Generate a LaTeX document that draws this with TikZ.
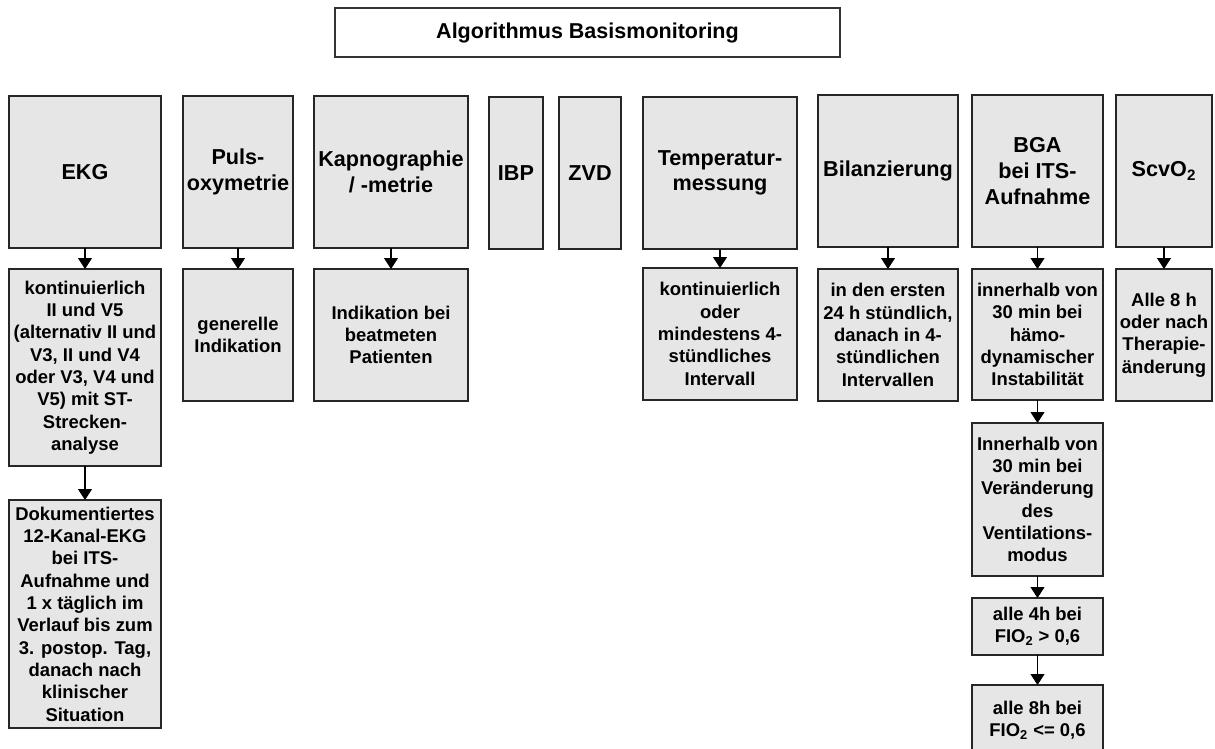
\documentclass[tikz,border=0pt]{standalone}
\usepackage{fontspec}
\setmainfont{Liberation Sans}
\usepackage{tikz}
\usetikzlibrary{arrows.meta, positioning}
\definecolor{boxgray}{HTML}{E6E6E6}
\tikzstyle{title} = [rectangle, draw=black!80, line width=0.6pt, fill=white, outer sep=0pt, font=\fontsize{12.25pt}{14pt}\selectfont\bfseries]
\tikzstyle{head} = [rectangle, draw=black!85, line width=0.6pt, fill=boxgray, minimum height=3.04cm, inner sep=1pt, outer sep=0pt, align=center, font=\fontsize{12.3pt}{14.6pt}\selectfont\bfseries]
\tikzstyle{info} = [rectangle, draw=black!85, line width=0.6pt, fill=boxgray, inner sep=1pt, outer sep=0pt, align=center, font=\fontsize{10.5pt}{12.7pt}\selectfont\bfseries]
\tikzstyle{arrow} = [line width=0.6pt,-{Triangle[length=0.22cm,width=0.28cm]}]

\begin{document}
\begin{tikzpicture}[node distance = 0.42cm]
	\useasboundingbox (0,0) rectangle (24.3,-14.98);
	\node (Titel) [title, minimum width=10.1cm, minimum height=0.98cm] at (11.75,-0.65) {Algorithmus Basismonitoring};
	% obere Reihe
	\node (EKG) [head, minimum width=3.04cm] at (1.70,-3.44) {EKG};
	\node (Puls) [head, minimum width=2.20cm] at (4.76,-3.44) {Puls-\\oxymetrie};
	\node (Kapno) [head, minimum width=3.08cm] at (7.82,-3.44) {Kapnographie\\/ -metrie};
	\node (IBP) [head, minimum width=1.08cm] at (10.32,-3.46) {IBP};
	\node (ZVD) [head, minimum width=1.24cm] at (11.80,-3.46) {ZVD};
	\node (Temp) [head, minimum width=3.08cm] at (14.40,-3.46) {Temperatur-\\messung};
	\node (Bilanz) [head, minimum width=2.80cm] at (17.76,-3.42) {Bilanzierung};
	\node (BGA) [head, minimum width=2.62cm] at (20.75,-3.42) {BGA\\bei ITS-\\Aufnahme};
	\node (ScvO) [head, minimum width=1.92cm] at (23.28,-3.42) {ScvO\textsubscript{2}};
	% untere Kästen
	\node (EKGa) [info, minimum width=3.04cm, minimum height=3.94cm, below = of EKG] {kontinuierlich\\II und V5\\(alternativ II und\\V3, II und V4\\oder V3, V4 und\\V5) mit ST-\\Strecken-\\analyse};
	\node (EKGb) [info, minimum width=3.04cm, minimum height=4.56cm, below = 0.68cm of EKGa] {Dokumentiertes\\12-Kanal-EKG\\bei ITS-\\Aufnahme und\\1 x täglich im\\Verlauf bis zum\\3. postop. Tag,\\danach nach\\klinischer\\Situation};
	\node (Pulsa) [info, minimum width=2.20cm, minimum height=2.64cm, below = of Puls] {generelle\\Indikation};
	\node (Kapnoa) [info, minimum width=3.08cm, minimum height=2.64cm, below = of Kapno] {Indikation bei\\beatmeten\\Patienten};
	\node (Tempa) [info, minimum width=3.08cm, minimum height=2.64cm, below = 0.38cm of Temp] {kontinuierlich\\oder\\mindestens 4-\\stündliches\\Intervall};
	\node (Bilanza) [info, minimum width=2.80cm, minimum height=2.64cm, below = 0.44cm of Bilanz] {in den ersten\\24 h stündlich,\\danach in 4-\\stündlichen\\Intervallen};
	\node (BGAa) [info, minimum width=2.62cm, minimum height=2.62cm, below = 0.44cm of BGA] {innerhalb von\\30 min bei\\hämo-\\dynamischer\\Instabilität};
	\node (BGAb) [info, minimum width=2.62cm, minimum height=3.06cm, below = 0.46cm of BGAa] {Innerhalb von\\30 min bei\\Veränderung\\des\\Ventilations-\\modus};
	\node (BGAc) [info, minimum width=2.62cm, minimum height=1.14cm, below = 0.44cm of BGAb] {alle 4h bei\\FIO\textsubscript{2} > 0,6};
	\node (BGAd) [info, minimum width=2.62cm, minimum height=1.40cm, below = 0.60cm of BGAc] {alle 8h bei\\FIO\textsubscript{2} <= 0,6};
	\node (ScvOa) [info, minimum width=1.92cm, minimum height=2.64cm, below = 0.44cm of ScvO] {Alle 8 h\\oder nach\\Therapie-\\änderung};
	% Pfeile
	\draw [arrow] (EKG) -- (EKGa);
	\draw [arrow] (EKGa) -- (EKGb);
	\draw [arrow] (Puls) -- (Pulsa);
	\draw [arrow] (Kapno) -- (Kapnoa);
	\draw [arrow] (Temp) -- (Tempa);
	\draw [arrow] (Bilanz) -- (Bilanza);
	\draw [arrow] (BGA) -- (BGAa);
	\draw [arrow] (BGAa) -- (BGAb);
	\draw [arrow] (BGAb) -- (BGAc);
	\draw [arrow] (BGAc) -- (BGAd);
	\draw [arrow] (ScvO) -- (ScvOa);
\end{tikzpicture}
\end{document}
